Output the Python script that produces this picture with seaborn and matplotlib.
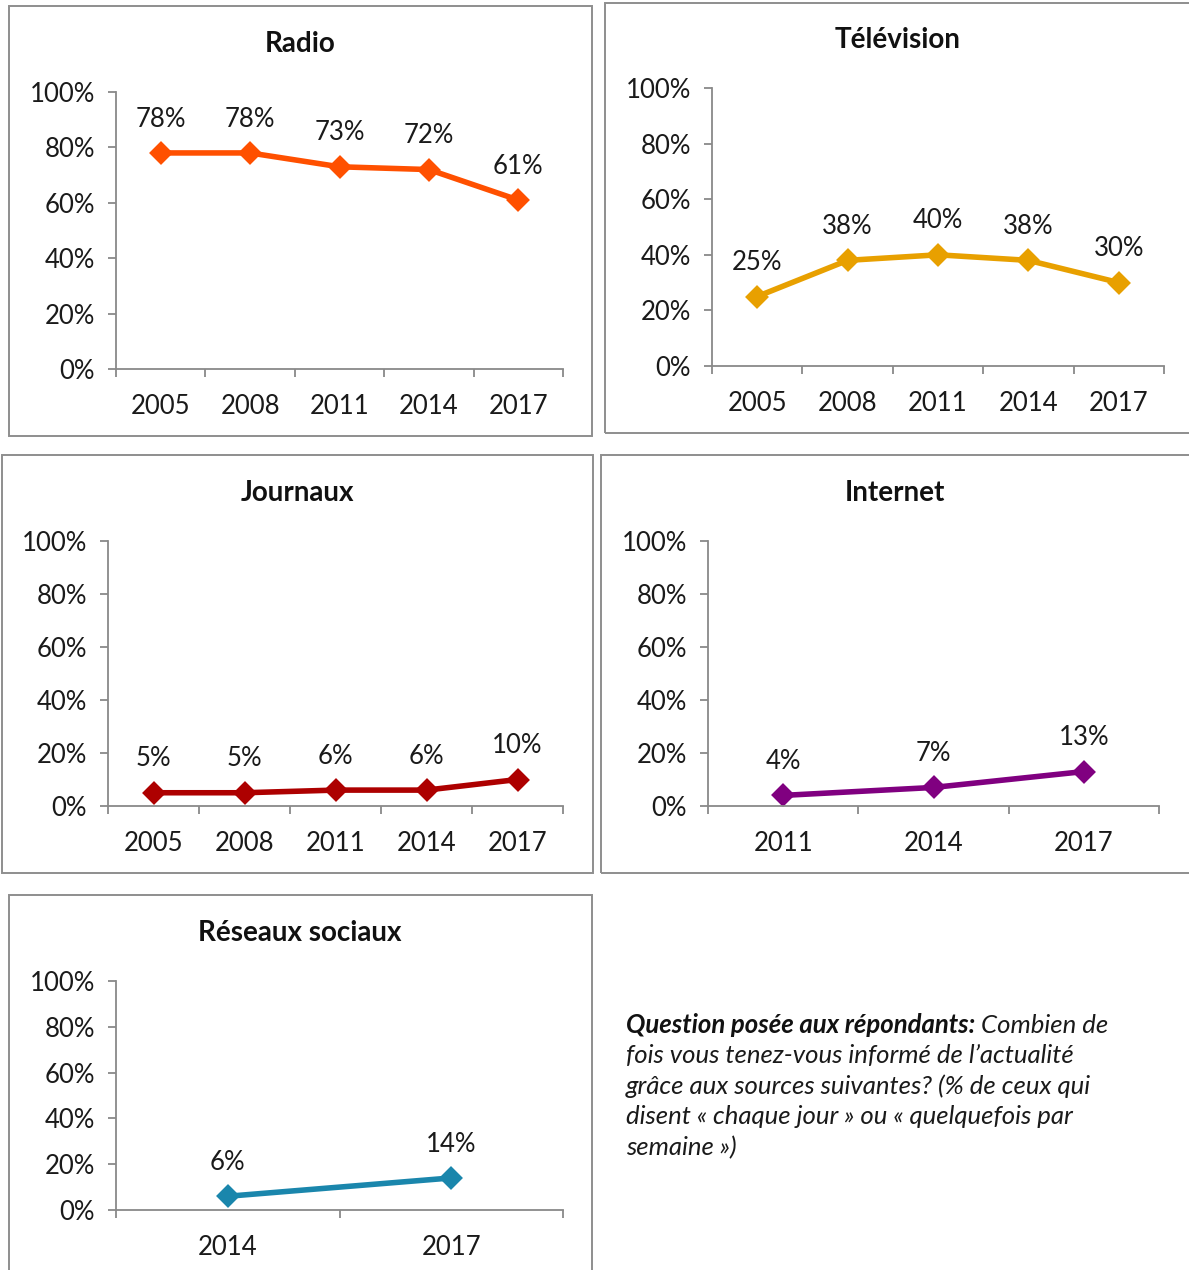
import matplotlib
matplotlib.use("Agg")
import matplotlib.pyplot as plt
import seaborn as sns
import pandas as pd
from matplotlib.patches import Rectangle
from matplotlib.ticker import FixedLocator, FuncFormatter

# Share of respondents who get news from each source (%)
radio_years = ["2005", "2008", "2011", "2014", "2017"]
radio_values = [78, 78, 73, 72, 61]

tv_years = ["2005", "2008", "2011", "2014", "2017"]
tv_values = [25, 38, 40, 38, 30]

journaux_years = ["2005", "2008", "2011", "2014", "2017"]
journaux_values = [5, 5, 6, 6, 10]

internet_years = ["2011", "2014", "2017"]
internet_values = [4, 7, 13]

social_years = ["2014", "2017"]
social_values = [6, 14]

y_ticks = [0, 20, 40, 60, 80, 100]

sns.set_theme(style="white")
plt.rcParams["font.family"] = ["Lato", "DejaVu Sans"]

W, H = 1189, 1270
fig = plt.figure(figsize=(W / 100, H / 100), dpi=100)
fig.patch.set_facecolor("white")

AXIS_GREY = "#898989"
BOX_GREY = "#8e8e8e"
LABEL_SIZE = 18.5


def fx(px):
    return px / W


def fy(py):
    return 1 - py / H


# name, years, values, colour, axes box (l, r, top, bottom), frame box, title centre
panels = [
    ("Radio", radio_years, radio_values, "#FF5000",
     (116, 563, 92, 369), (9, 6, 592, 436), (300, 44)),
    ("Télévision", tv_years, tv_values, "#E8A000",
     (712, 1164, 88, 366), (605, 3, 1192, 433), (898, 40)),
    ("Journaux", journaux_years, journaux_values, "#AD0000",
     (108, 563, 541, 806), (2, 455, 593, 873), (297, 493)),
    ("Internet", internet_years, internet_values, "#800080",
     (708, 1159, 541, 806), (601, 455, 1192, 873), (895, 493)),
    ("Réseaux sociaux", social_years, social_values, "#1A86AC",
     (116, 563, 981, 1210), (9, 895, 592, 1285), (300, 933)),
]

for name, years, values, colour, (l, r, t, b), (bx0, by0, bx1, by1), (tx, ty) in panels:
    # panel frame
    fig.patches.append(Rectangle((fx(bx0), fy(by1)), fx(bx1 - bx0), (by1 - by0) / H,
                                 transform=fig.transFigure, fill=False,
                                 edgecolor=BOX_GREY, linewidth=1.4, zorder=0))
    fig.text(fx(tx), fy(ty), name, ha="center", va="center",
             fontsize=20, fontweight="bold", color="#111111")

    ax = fig.add_axes([fx(l), fy(b), fx(r - l), (b - t) / H])
    ax.set_facecolor("none")
    df = pd.DataFrame({"year": years, "value": values})
    sns.pointplot(data=df, x="year", y="value", order=years, color=colour,
                  markers="D", linestyles="-", errorbar=None,
                  markersize=9.5, linewidth=4, ax=ax)
    ax.set_xlim(-0.5, len(years) - 0.5)
    ax.set_ylim(0, 100)
    ax.set_xlabel("")
    ax.set_ylabel("")

    for i, v in enumerate(values):
        ax.annotate(f"{v}%", (i, v), xytext=(0, 19), textcoords="offset points",
                    ha="center", va="baseline", fontsize=LABEL_SIZE, color="#1a1a1a")

    for side in ("top", "right"):
        ax.spines[side].set_visible(False)
    for side in ("left", "bottom"):
        ax.spines[side].set_color(AXIS_GREY)
        ax.spines[side].set_linewidth(1.3)

    ax.yaxis.set_major_locator(FixedLocator(y_ticks))
    ax.yaxis.set_major_formatter(FuncFormatter(lambda v, p: f"{int(v)}%"))
    ax.tick_params(axis="y", which="major", direction="out", length=6, width=1.3,
                   color=AXIS_GREY, labelsize=LABEL_SIZE, labelcolor="#1a1a1a",
                   pad=9, left=True)

    ax.xaxis.set_minor_locator(FixedLocator([i - 0.5 for i in range(len(years) + 1)]))
    ax.tick_params(axis="x", which="major", length=0, labelsize=LABEL_SIZE,
                   labelcolor="#1a1a1a", pad=18)
    ax.tick_params(axis="x", which="minor", direction="out", length=6, width=1.3,
                   color=AXIS_GREY, bottom=True)
    ax.grid(False)

# question wording
renderer = fig.canvas.get_renderer()
x0 = fx(626)
base = [1033, 1063.5, 1094, 1124.5, 1155]
q_size = 18.5
t_bold = fig.text(x0, fy(base[0]), "Question posée aux répondants:", ha="left",
                  va="baseline", fontsize=q_size, fontweight="bold", fontstyle="italic",
                  color="#111111")
bb = t_bold.get_window_extent(renderer=renderer)
fig.text(bb.x1 / W, fy(base[0]), " Combien de", ha="left", va="baseline",
         fontsize=q_size, fontstyle="italic", color="#1a1a1a")
lines = [
    "fois vous tenez-vous informé de l’actualité",
    "grâce aux sources suivantes? (% de ceux qui",
    "disent « chaque jour » ou « quelquefois par",
    "semaine »)",
]
for yb, txt in zip(base[1:], lines):
    fig.text(x0, fy(yb), txt, ha="left", va="baseline", fontsize=q_size,
             fontstyle="italic", color="#1a1a1a")

fig.savefig("out.png", dpi=100, facecolor="white")
